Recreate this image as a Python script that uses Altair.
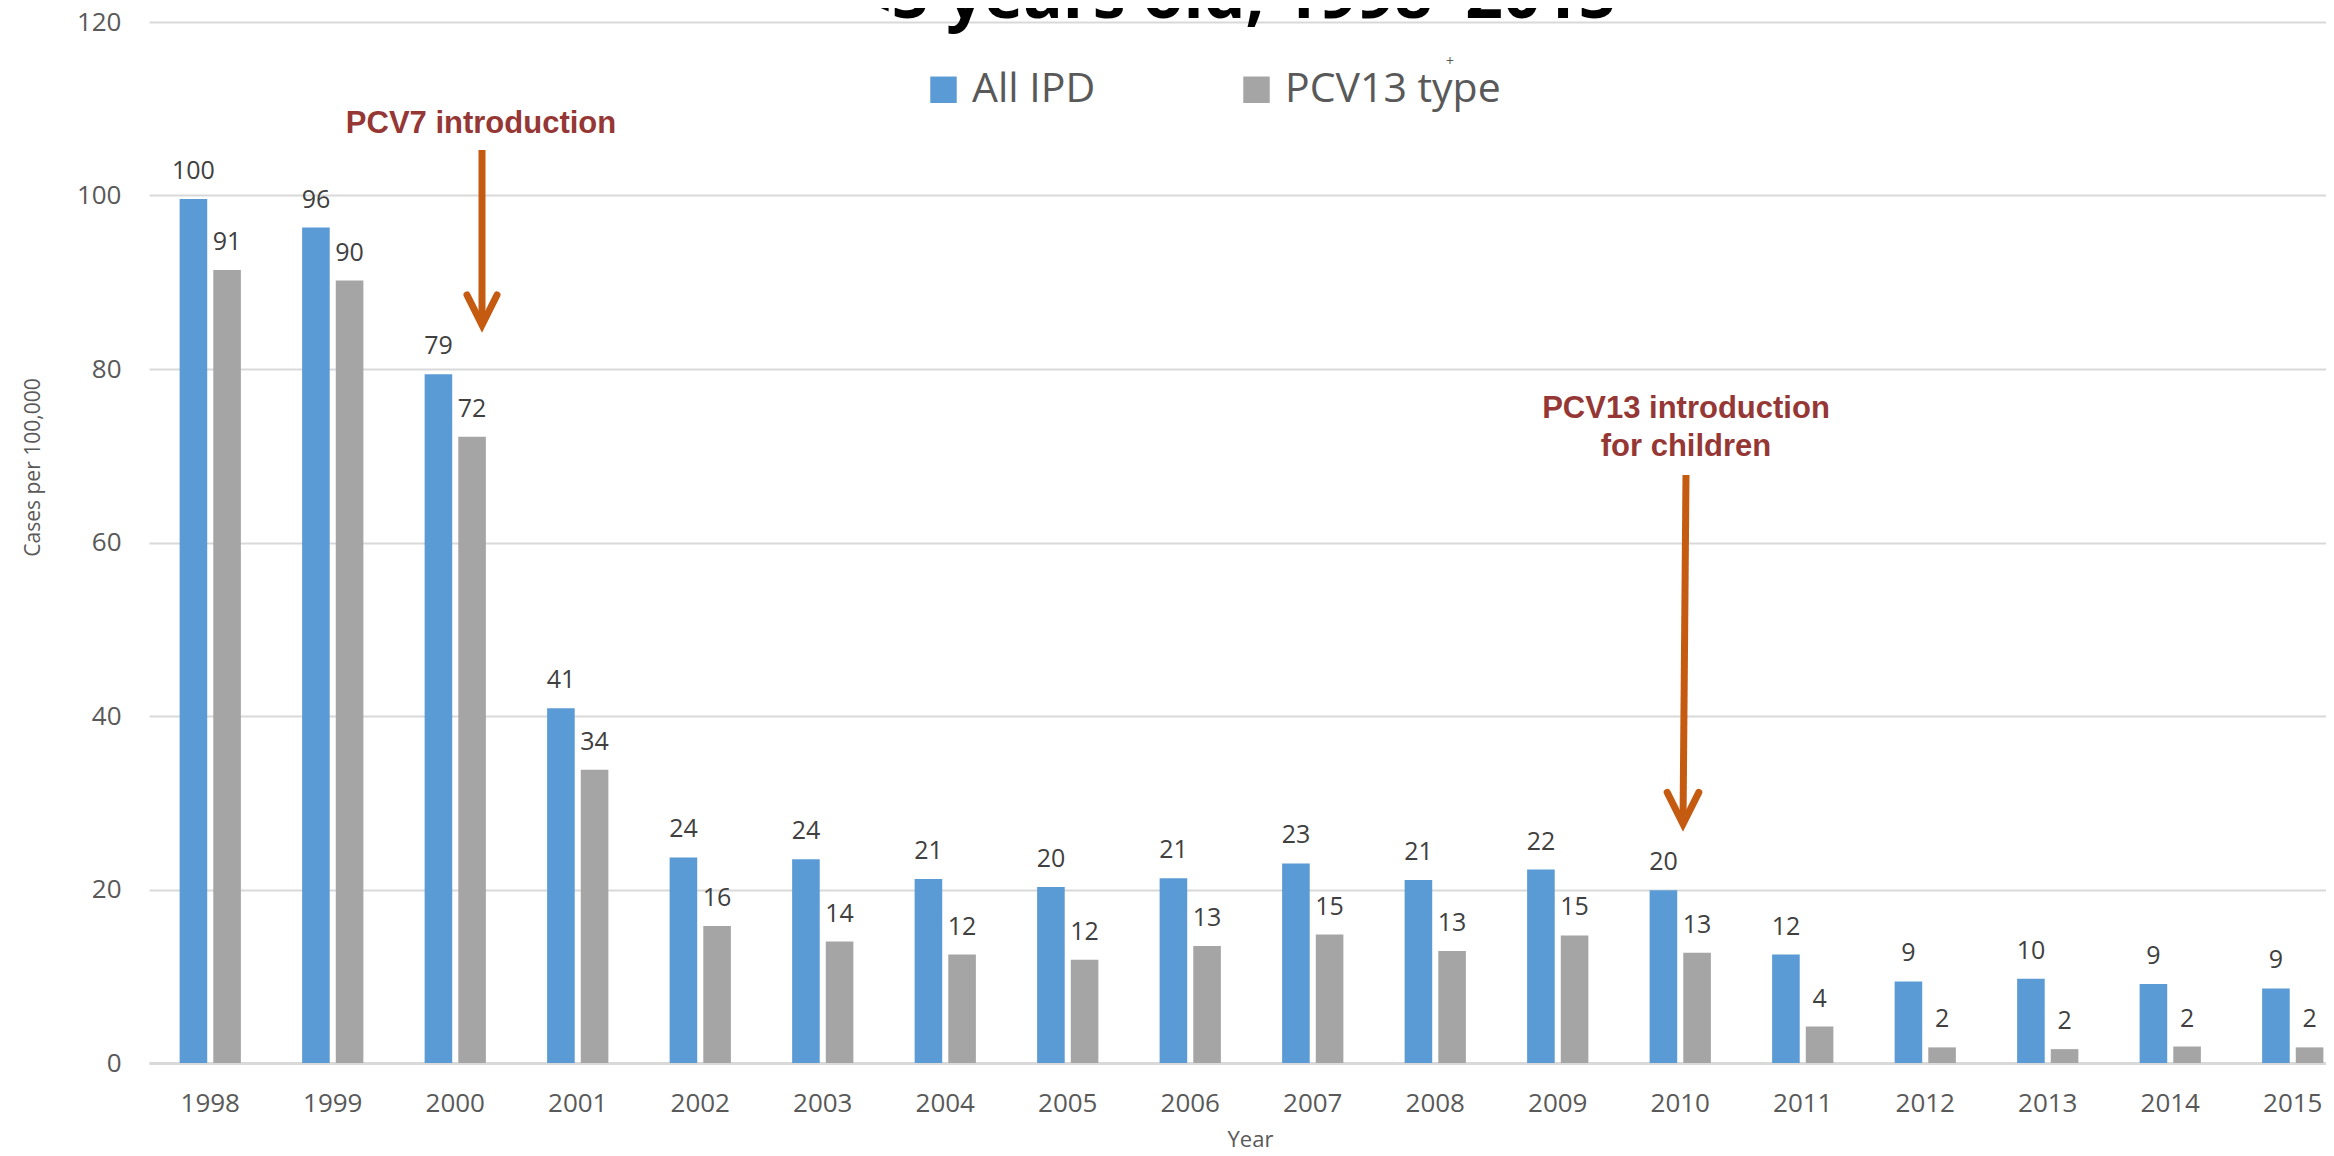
import altair as alt
import pandas as pd

# ---------------- data ----------------
years = ["1998", "1999", "2000", "2001", "2002", "2003", "2004", "2005", "2006",
         "2007", "2008", "2009", "2010", "2011", "2012", "2013", "2014", "2015"]
all_ipd = [99.6, 96.3, 79.4, 40.9, 23.7, 23.5, 21.2, 20.3, 21.3,
           23.0, 21.1, 22.3, 19.9, 12.5, 9.4, 9.7, 9.1, 8.6]
pcv13 = [91.4, 90.2, 72.2, 33.8, 15.8, 14.0, 12.5, 11.9, 13.5,
         14.8, 12.9, 14.7, 12.7, 4.2, 1.8, 1.6, 1.9, 1.8]
all_ipd_labels = ["100", "96", "79", "41", "24", "24", "21", "20", "21",
                  "23", "21", "22", "20", "12", "9", "10", "9", "9"]
pcv13_labels = ["91", "90", "72", "34", "16", "14", "12", "12", "13",
                "15", "13", "15", "13", "4", "2", "2", "2", "2"]
series_names = ["All IPD", "PCV13 type"]
series_colors = ["#5B9BD5", "#A5A5A5"]
y_ticks = [0, 20, 40, 60, 80, 100, 120]
title_text = "<5 years old, 1998\u20132015"
pcv7_note = "PCV7 introduction"
pcv13_note = ["PCV13 introduction", "for children"]

rows = []
for i, yr in enumerate(years):
    rows.append({"year": yr, "series": series_names[0], "value": all_ipd[i], "label": all_ipd_labels[i]})
    rows.append({"year": yr, "series": series_names[1], "value": pcv13[i], "label": pcv13_labels[i]})
df = pd.DataFrame(rows)

FONT = "Open Sans"
GREY_TXT = "#595959"
ARROW = "#C55A11"
NOTE = "#953735"

x_enc = alt.X(
    "year:N", sort=years,
    scale=alt.Scale(range=[0, 2205], paddingInner=0.5, paddingOuter=0.25),
    axis=alt.Axis(
        title="Year", labelAngle=0, labelFont=FONT, labelFontSize=26, labelColor=GREY_TXT,
        labelPadding=27, ticks=False, tickSize=0, domainColor="#D9D9D9", domainWidth=3,
        grid=False, titleFont=FONT, titleFontSize=22, titleFontWeight="normal",
        titleColor=GREY_TXT, titleX=1101, titleY=83, titleBaseline="alphabetic",
    ),
)
xo_enc = alt.XOffset("series:N", sort=series_names,
                     scale=alt.Scale(paddingInner=0.18, paddingOuter=0))
y_enc = alt.Y(
    "value:Q",
    scale=alt.Scale(domain=[0, 120], nice=False),
    axis=alt.Axis(
        values=y_ticks, title="Cases per 100,000", domain=False, ticks=False, tickSize=0,
        labelFont=FONT, labelFontSize=26, labelColor=GREY_TXT, labelPadding=28,
        gridColor="#D9D9D9", gridWidth=2,
        titleFont=FONT, titleFontSize=21, titleFontWeight="normal", titleColor=GREY_TXT,
        titleX=-106, titleY=445,
    ),
)

bars = alt.Chart(df).mark_bar().encode(
    x=x_enc,
    xOffset=xo_enc,
    y=y_enc,
    color=alt.Color(
        "series:N",
        scale=alt.Scale(domain=series_names, range=series_colors),
        legend=alt.Legend(
            orient="none", legendX=774, legendY=47, direction="horizontal", title=None,
            symbolType="square", symbolSize=700, symbolStrokeWidth=0,
            labelFont=FONT, labelFontSize=41, labelColor=GREY_TXT, labelOffset=8,
            labelLimit=500, columnPadding=140, padding=0,
        ),
    ),
)

labels = alt.Chart(df).mark_text(
    font=FONT, fontSize=25, color="#404040", baseline="alphabetic", dy=-20
).encode(x=x_enc, xOffset=xo_enc, y=y_enc, text="label:N")

one = alt.Data(values=[{"k": 0}])

title_layer = alt.Chart(one).mark_text(
    font=FONT, fontSize=66, fontWeight="bold", color="#000000",
    baseline="alphabetic", align="center"
).encode(x=alt.value(1086), y=alt.value(-4), text=alt.value(title_text))

plus_layer = alt.Chart(one).mark_text(
    font=FONT, fontSize=14, color=GREY_TXT, baseline="middle", align="center"
).encode(x=alt.value(1301), y=alt.value(40), text=alt.value("+"))

pcv7_text = alt.Chart(one).mark_text(
    font="Liberation Sans", fontWeight="bold", fontSize=31, color=NOTE,
    align="center", baseline="alphabetic"
).encode(x=alt.value(332), y=alt.value(111), text=alt.value(pcv7_note))

pcv7_shaft = alt.Chart(one).mark_rule(color=ARROW, strokeWidth=7).encode(
    x=alt.value(333), y=alt.value(128), y2=alt.value(303))

HEAD = "M-1,-2L0,0L1,-2"
pcv7_head = alt.Chart(one).mark_point(
    shape=HEAD, filled=False, stroke=ARROW, strokeWidth=7, size=900,
    strokeJoin="miter", strokeCap="round", opacity=1
).encode(x=alt.value(333), y=alt.value(303))

pcv13_text = alt.Chart(one).mark_text(
    font="Liberation Sans", fontWeight="bold", fontSize=31, color=NOTE,
    align="center", baseline="alphabetic", lineHeight=38
).encode(x=alt.value(1537), y=alt.value(396), text=alt.value(pcv13_note))

pcv13_shaft = alt.Chart(one).mark_rule(color=ARROW, strokeWidth=7).encode(
    x=alt.value(1537), x2=alt.value(1534), y=alt.value(453), y2=alt.value(802))

pcv13_head = alt.Chart(one).mark_point(
    shape=HEAD, filled=False, stroke=ARROW, strokeWidth=7, size=1000,
    strokeJoin="miter", strokeCap="round", opacity=1
).encode(x=alt.value(1534), y=alt.value(802))

chart = alt.layer(
    bars, labels, title_layer, plus_layer,
    pcv7_text, pcv7_shaft, pcv7_head,
    pcv13_text, pcv13_shaft, pcv13_head,
).properties(
    width=2177, height=1041,
    autosize=alt.AutoSizeParams(type="none"),
    padding={"left": 141, "top": 14, "right": 0, "bottom": 84},
).configure_view(stroke=None)

chart.save("out.html", embed_options={"renderer": "svg", "actions": False})
